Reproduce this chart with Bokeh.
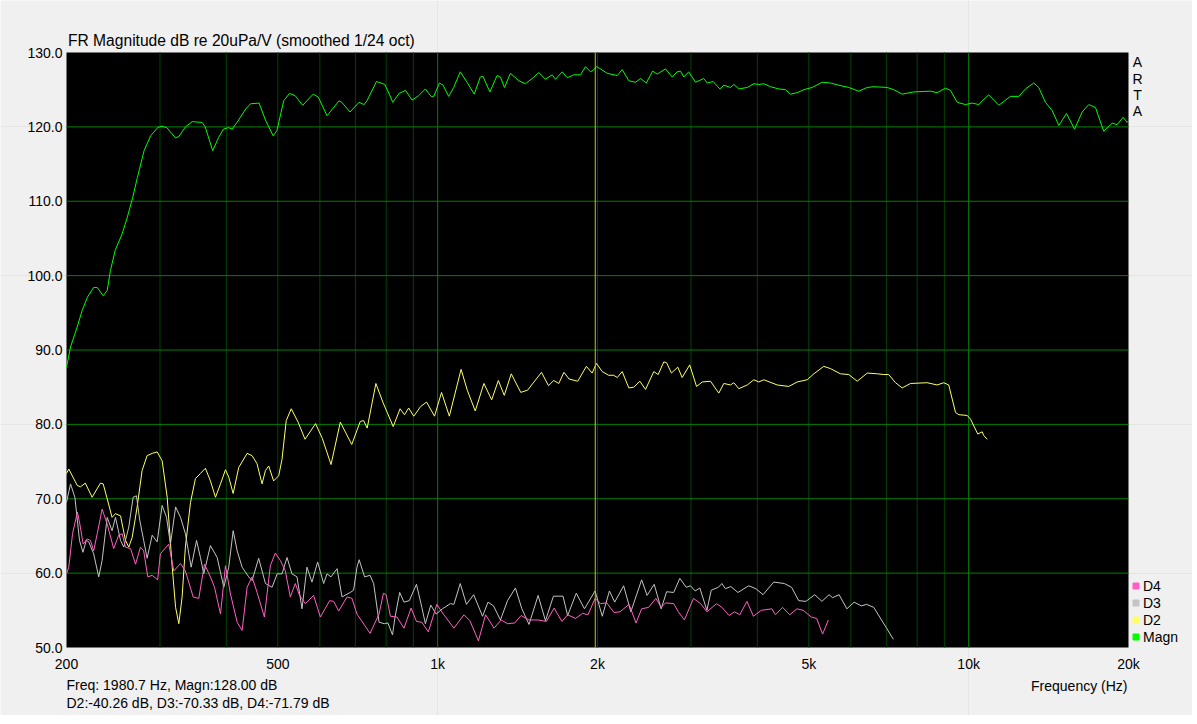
import math
from bokeh.plotting import figure
from bokeh.models import Label, Legend, LegendItem, BoxAnnotation, Range1d
from bokeh.core.properties import value
from bokeh.embed import file_html
from bokeh.resources import INLINE

# ---------------- data ----------------
magn_freq = [200, 203.5, 209.5, 214, 219, 225, 228.5, 234.5, 238.6, 242, 247, 254.5, 260.5, 266.5, 272, 280,
             288, 297, 302, 309, 321, 325.5, 335, 345, 360, 365, 377, 387, 395, 404, 410, 419, 435, 444, 461,
             474, 490, 498, 513, 526, 539, 557, 583, 596, 619, 652, 660, 684, 711, 727, 736, 767, 795, 811,
             823, 846, 870, 895, 921, 948, 972, 983, 1008, 1024, 1049, 1072, 1103, 1136, 1172, 1203, 1217,
             1254, 1294, 1313, 1336, 1371, 1422, 1463, 1506, 1551, 1596, 1643, 1667, 1716, 1754, 1805, 1858,
             1899, 1940, 1963, 1991, 2026, 2086, 2179, 2226, 2291, 2357, 2410, 2471, 2540, 2591, 2686, 2765,
             2825, 2866, 2907, 2970, 3059, 3170, 3219, 3303, 3399, 3459, 3560, 3612, 3691, 3829, 3939, 4026,
             4114, 4235, 4390, 4520, 4618, 4754, 4893, 5074, 5299, 5493, 5693, 5946, 6211, 6443, 6627, 7022,
             7227, 7497, 7883, 8473, 8723, 9044, 9242, 9517, 9865, 10155, 10449, 10604, 10911, 11395, 11986,
             12429, 12795, 13262, 13552, 13951, 14363, 14786, 15286, 15825, 16362, 16835, 17334, 17964, 18635,
             19036, 19540, 19880, 20000]
magn_db = [87.7, 90.4, 93.1, 95.3, 97.1, 98.4, 98.4, 97.3, 98.0, 100.7, 103.4, 105.6, 107.9, 110.5, 113.2, 116.8,
           118.8, 119.9, 120.1, 119.9, 118.5, 118.7, 120.0, 120.7, 120.6, 120.0, 116.8, 118.6, 119.7, 119.9, 119.7,
           120.6, 122.4, 123.1, 123.2, 120.9, 118.8, 119.5, 123.5, 124.5, 124.2, 122.9, 124.4, 124.0, 121.5,
           123.5, 123.3, 122.0, 123.3, 123.0, 123.5, 126.1, 125.7, 124.4, 123.3, 124.5, 124.9, 123.6, 124.2,
           125.1, 124.1, 124.1, 125.9, 125.6, 124.1, 125.3, 127.4, 126.0, 124.4, 126.7, 126.8, 124.7, 126.9,
           126.7, 125.3, 127.2, 126.2, 125.8, 126.5, 127.3, 126.4, 127.0, 126.4, 127.4, 126.6, 127.0, 127.0,
           128.1, 127.4, 127.6, 128.1, 127.8, 127.2, 126.9, 127.7, 126.2, 126.0, 126.5, 125.9, 127.5, 127.1,
           127.8, 126.7, 127.4, 127.5, 126.7, 127.4, 126.0, 126.5, 125.9, 126.1, 125.1, 125.6, 125.3, 125.7,
           125.1, 125.3, 125.8, 125.7, 125.8, 125.4, 125.1, 125.0, 124.4, 124.6, 125.0, 125.3, 126.0, 125.9,
           125.6, 125.3, 124.8, 125.3, 125.4, 125.3, 125.0, 124.4, 124.7, 124.8, 124.6, 125.2, 124.9, 123.3,
           123.0, 123.2, 123.0, 123.5, 124.3, 122.9, 124.1, 124.1, 125.1, 125.9, 125.3, 123.3, 122.2, 120.2,
           121.8, 119.7, 122.0, 123.0, 122.6, 119.4, 120.5, 120.3, 121.3, 120.6, 120.8]

d2_freq = [200, 202, 209.5, 212.5, 217, 223.5, 231.7, 234.5, 238.6, 243.7, 247.3, 252.8, 258.3, 262, 265.9,
           271.7, 277.6, 283.7, 290, 296.3, 302.8, 309.5, 316.3, 321, 325.5, 330.2, 334.9, 342.4, 349.8, 357.5,
           365.3, 373.3, 381.6, 390, 398.5, 404.2, 412, 422, 437.7, 447.2, 457, 467, 473.9, 480.7, 491, 502,
           509.2, 518.6, 530, 546, 562.7, 588.9, 606.5, 629.8, 655.7, 689, 715, 725.5, 736.7, 765, 788.4,
           824.7, 849.7, 866, 882, 901.6, 929, 953, 986.5, 1017, 1052, 1107, 1137, 1177, 1222, 1264, 1301,
           1335, 1376, 1434, 1477, 1569, 1617, 1654, 1691, 1729, 1768, 1835.5, 1906, 1954, 1991, 2041, 2100,
           2146, 2179, 2226, 2291, 2340, 2403, 2463, 2553, 2602, 2666, 2698, 2756, 2833, 2887, 2983, 3073,
           3150, 3265, 3384, 3459, 3560, 3612, 3691, 3829, 3939, 4026, 4114, 4360, 4584, 4754, 4966, 5112,
           5335, 5493, 5735, 5946, 6168, 6443, 6726, 6920, 7071, 7282, 7497, 7771, 8354, 8723, 8976, 9172,
           9447, 9582, 9938, 10081, 10404, 10604, 10678, 10836]
d2_db = [73.4, 74.0, 71.8, 71.6, 72.1, 70.2, 72.1, 72.0, 70.0, 67.5, 68.0, 67.7, 64.4, 63.5, 64.8,
         68.9, 73.8, 75.8, 76.1, 76.3, 75.1, 70.2, 60.8, 55.4, 53.2, 56.8, 63.5, 69.5, 72.7, 73.4,
         74.1, 72.4, 70.2, 72.0, 73.9, 72.9, 70.7, 74.2, 76.1, 75.8, 74.7, 72.0, 73.8, 74.4, 72.4, 73.1,
         75.3, 80.5, 82.1, 80.3, 78.0, 80.1, 78.1, 74.6, 80.3, 77.3, 80.4, 80.5, 79.5, 85.5, 83.0,
         79.7, 82.1, 81.3, 82.2, 81.1, 82.4, 83.0, 81.1, 84.3, 81.1, 87.4, 84.6, 81.8, 85.5, 83.3, 85.9,
         83.9, 86.8, 84.3, 84.6, 87.0, 85.2, 85.9, 85.5, 87.0, 86.1, 85.8, 87.8, 86.9, 88.2, 87.1, 86.6,
         86.6, 86.3, 87.1, 84.9, 85.0, 85.8, 84.7, 87.1, 86.7, 88.4, 88.3, 86.9, 87.7, 86.3, 88.0, 85.1,
         85.7, 85.8, 84.2, 85.5, 85.3, 85.6, 84.8, 85.3, 86.0, 85.7, 86.0, 85.3, 85.1, 85.7, 86.0, 86.8,
         87.8, 87.5, 86.8, 86.7, 85.8, 86.9, 86.8, 86.7, 86.7, 85.6, 84.9, 85.5, 85.6, 85.3, 85.6, 85.3,
         81.6, 81.3, 81.2, 80.7, 78.7, 79.0, 78.5, 78.0]

d3_freq = [200, 203.5, 207.4, 211.6, 214.8, 217.9, 220.3, 225, 230, 233.4, 238.6, 243.7, 247.3, 252.8, 256.4,
           262, 267, 270.9, 274.8, 279.5, 283.7, 290, 296.3, 302.8, 308.6, 313.9, 321, 327.9, 334.9, 343.4,
           351.5, 357.5, 362.7, 373.3, 384.4, 395.6, 404.2, 412, 419.2, 428.3, 440.7, 447.2, 460.2, 473.9,
           487.7, 498.6, 509.2, 520.4, 531.7, 543.4, 555.3, 567.4, 579.8, 594.3, 610, 618.9, 629.8, 646.5,
           660.5, 684.7, 694.5, 704.8, 711.5, 728.4, 746, 757.7, 775.6, 793.6, 806, 822.2, 831.2, 848.3,
           864.2, 884.3, 912.2, 933.7, 948.1, 970.8, 993.3, 1021, 1057, 1073, 1103, 1133, 1169, 1215, 1244,
           1274, 1313, 1354, 1401, 1441, 1486, 1546, 1596, 1652, 1722, 1757, 1824, 1890, 1979, 2042, 2106,
           2155, 2240, 2311, 2422, 2480, 2557, 2636, 2699, 2783, 2858, 2938, 2993, 3054, 3117, 3214, 3275,
           3378, 3430, 3483, 3565, 3678, 3853, 3975, 4100, 4294, 4497, 4640, 4786, 4938, 5131, 5292, 5459,
           5542, 5702, 5897, 6086, 6277, 6424, 6625, 6992, 7214]
d3_db = [69.5, 72.0, 70.2, 64.4, 62.8, 64.4, 64.2, 62.6, 59.5, 61.7, 67.5, 65.7, 67.5, 64.4, 63.5,
         66.2, 70.2, 70.4, 67.1, 64.4, 62.0, 65.1, 64.2, 69.1, 67.5, 63.9, 68.9, 67.5, 65.3, 60.8,
         64.4, 62.1, 59.9, 63.7, 62.1, 58.1, 60.8, 65.7, 63.0, 60.8, 59.5, 59.0, 62.0, 58.6,
         58.1, 59.9, 59.9, 62.1, 59.9, 59.5, 55.2, 60.8, 58.8, 61.5, 58.6, 59.9, 59.5, 60.6,
         56.8, 57.4, 57.7, 60.8, 61.8, 59.5, 59.7, 58.6, 53.4, 53.2, 53.3, 51.7, 54.1, 57.4,
         56.1, 56.3, 58.5, 55.4, 53.2, 55.7, 54.5, 55.2, 55.9, 55.8, 58.6, 55.8, 57.1, 54.2, 56.1,
         55.6, 53.7, 56.3, 58.0, 55.2, 53.1, 57.0, 53.6, 56.9, 56.9, 54.3, 57.3, 55.2, 57.6, 54.2, 57.6,
         56.1, 58.3, 54.8, 59.1, 57.0, 58.5, 55.2, 57.5, 57.4, 59.3, 58.1, 58.3, 57.6, 58.0, 55.0, 57.7,
         58.1, 58.6, 57.9, 58.2, 57.4, 58.3, 57.9, 57.1, 58.8, 58.6, 58.1, 56.3, 56.2, 57.1, 56.2, 57.1,
         56.7, 57.1, 55.2, 56.1, 55.6, 55.8, 55.4, 52.7, 51.1]

d4_freq = [200, 202, 205.3, 209.7, 211.9, 215, 218.7, 221.9, 225, 228.5, 233.4, 238.6, 245.4, 250.8, 254.6,
           258.3, 264, 269.8, 275.6, 279.5, 284.5, 290, 297, 300.5, 311.6, 318.5, 327.9, 334.9, 346.4, 354.9,
           363.8, 373.3, 380, 390, 398.5, 407.2, 419.2, 428.3, 437.7, 447.2, 457, 471.7, 484.1, 494.7, 505.5,
           516.6, 527.9, 539.4, 549.5, 563.3, 584, 601.3, 626, 637, 651, 675, 689.8, 704.8, 746, 775.6, 790.6,
           799.8, 814.8, 837.7, 864.2, 891.2, 912.2, 933.7, 960.4, 996.4, 1025, 1073, 1121, 1150, 1193.5, 1231,
           1277, 1317, 1354, 1397, 1436, 1486, 1546, 1602, 1657, 1714, 1757, 1818, 1875, 1919, 1979, 2026,
           2082, 2149, 2205, 2293, 2364, 2422, 2497, 2576, 2636, 2686, 2783, 2840, 2915, 3032, 3128, 3214,
           3352, 3430, 3539, 3622, 3706, 3824, 3932, 4069, 4260, 4327, 4462, 4604, 4749, 4880, 5053, 5173,
           5308, 5443]
d4_db = [59.9, 60.8, 65.3, 68.2, 66.6, 63.9, 64.6, 64.4, 63.0, 65.3, 68.6, 66.6, 63.3, 65.1, 65.3,
         63.5, 63.3, 61.2, 63.5, 63.0, 59.5, 59.7, 59.1, 62.6, 63.9, 60.3, 61.3, 60.3, 56.8, 56.6,
         61.2, 59.5, 58.1, 54.5, 61.0, 57.2, 53.4, 52.3, 58.1, 59.5, 57.4, 54.1, 61.0, 62.7, 61.7,
         60.3, 56.8, 58.6, 57.0, 55.9, 57.0, 54.1, 56.3, 56.2, 54.9, 56.8, 56.6, 54.5, 51.9, 54.5, 57.3,
         57.1, 54.2, 54.1, 52.6, 55.3, 53.5, 53.4, 52.1, 55.8, 54.5, 52.6, 54.4, 53.6, 50.9, 54.4,
         52.6, 53.7, 53.2, 53.3, 54.3, 53.7, 53.7, 53.5, 55.3, 53.5, 54.4, 53.9, 54.6, 54.4, 56.6, 55.9,
         56.0, 54.7, 54.8, 55.8, 53.3, 55.2, 55.4, 56.6, 55.4, 56.0, 55.9, 54.8, 53.7, 56.6, 55.9, 54.8,
         55.9, 55.4, 54.3, 54.8, 54.4, 56.2, 54.2, 55.0, 55.2, 54.4, 55.4, 54.4, 55.2, 55.0, 54.1, 53.9,
         51.8, 53.7]

series_names = ["D4", "D3", "D2", "Magn"]
series_colors = ["#ff5fc4", "#c4c4c4", "#ffff66", "#00ff00"]

cursor_freq = 1980.7
x_tick_values = [200, 500, 1000, 2000, 5000, 10000, 20000]
x_tick_labels = ["200", "500", "1k", "2k", "5k", "10k", "20k"]
y_tick_values = [50, 60, 70, 80, 90, 100, 110, 120, 130]
y_tick_labels = ["50.0", "60.0", "70.0", "80.0", "90.0", "100.0", "110.0", "120.0", "130.0"]
x_grid_major = [1000, 10000]
x_grid_minor = [300, 400, 500, 600, 700, 800, 900, 2000, 3000, 4000, 5000, 6000, 7000, 8000, 9000]
y_grid = [60, 70, 80, 90, 100, 110, 120]

title_text = "FR Magnitude dB re 20uPa/V (smoothed 1/24 oct)"
readout_lines = ["Freq: 1980.7 Hz, Magn:128.00 dB", "D2:-40.26 dB, D3:-70.33 dB, D4:-71.79 dB"]
x_label_text = "Frequency (Hz)"
brand_letters = ["A", "R", "T", "A"]

FONT = "Liberation Sans"

# ---------------- layout (pixels of the page) ----------------
W, H = 1192, 715
PLOT_L, PLOT_R, PLOT_T, PLOT_B = 66, 1128, 52, 647
X_MIN, X_MAX = x_tick_values[0], x_tick_values[-1]
Y_MIN, Y_MAX = y_tick_values[0], y_tick_values[-1]
px_per_dec = (PLOT_R - PLOT_L) / math.log10(X_MAX / X_MIN)
px_per_db = (PLOT_B - PLOT_T) / (Y_MAX - Y_MIN)


def xd(px):
    """page x pixel -> frequency"""
    return X_MIN * 10 ** ((px - PLOT_L) / px_per_dec)


def yd(py):
    """page y pixel -> dB"""
    return Y_MAX - (py - PLOT_T) / px_per_db


p = figure(width=W, height=H, x_axis_type="log", x_axis_location=None, y_axis_location=None,
           x_range=Range1d(xd(0), xd(W)), y_range=Range1d(yd(H), yd(0)),
           output_backend="svg", toolbar_location=None,
           min_border_left=0, min_border_right=0, min_border_top=0, min_border_bottom=0,
           background_fill_color="#f0f0f0", border_fill_color="#f0f0f0", outline_line_color=None)

# plot area
p.add_layout(BoxAnnotation(left=X_MIN, right=X_MAX, bottom=Y_MIN, top=Y_MAX, fill_color="black",
                           fill_alpha=1, line_color=None, level="underlay"))

# grid lines
p.segment(x0=x_grid_minor, y0=[Y_MIN] * len(x_grid_minor), x1=x_grid_minor, y1=[Y_MAX] * len(x_grid_minor),
          line_color="#004400", line_width=1)
p.segment(x0=x_grid_major, y0=[Y_MIN] * len(x_grid_major), x1=x_grid_major, y1=[Y_MAX] * len(x_grid_major),
          line_color="#008000", line_width=1)
p.segment(x0=[X_MIN] * len(y_grid), y0=y_grid, x1=[X_MAX] * len(y_grid), y1=y_grid,
          line_color="#008000", line_width=1)

# curves
p.line(magn_freq, magn_db, line_color=series_colors[3], line_width=1)
p.line(d2_freq, d2_db, line_color=series_colors[2], line_width=1)
p.line(d3_freq, d3_db, line_color=series_colors[1], line_width=1)
p.line(d4_freq, d4_db, line_color=series_colors[0], line_width=1)

# cursor
p.segment(x0=[cursor_freq], y0=[Y_MIN], x1=[cursor_freq], y1=[Y_MAX], line_color="#c8c800", line_width=1)

# tick labels
p.text(x=x_tick_values, y=[yd(663)] * len(x_tick_values), text=x_tick_labels,
       text_align="center", text_baseline="middle", text_font=value(FONT),
       text_font_size=value("14px"), text_color="black")
p.text(x=[xd(62)] * len(y_tick_values), y=y_tick_values, text=y_tick_labels,
       text_align="right", text_baseline="middle", text_font=value(FONT),
       text_font_size=value("14px"), text_color="black")

# texts
lab = dict(text_font=FONT, text_font_size="14px", text_color="black", text_baseline="middle")
p.add_layout(Label(x=xd(67.5), y=yd(40), text=title_text, **{**lab, "text_font_size": "15.6px"}))
for letter, py in zip(brand_letters, [61.7, 78.3, 94.3, 110]):
    p.add_layout(Label(x=xd(1137), y=yd(py), text=letter, text_align="center", **lab))
for line, py in zip(readout_lines, [684, 702]):
    p.add_layout(Label(x=xd(66), y=yd(py), text=line, **lab))
p.add_layout(Label(x=xd(1127), y=yd(685), text=x_label_text, text_align="right", **lab))

# series legend (square swatches), right of the plot area.
# Each swatch renderer holds a single NaN point: nothing is drawn in the plot,
# but the legend has a marker to draw.
items = []
for name, col in zip(series_names, series_colors):
    r = p.scatter([float("nan")], [float("nan")], marker="square", size=6, fill_color=col, line_color=col)
    items.append(LegendItem(label=name, renderers=[r], index=0))
legend = Legend(items=items, location=(1128, H - 645), glyph_width=15, glyph_height=15, label_height=17,
                margin=0, padding=0, spacing=0, label_standoff=0, label_text_font=FONT,
                label_text_font_size="14px", label_text_color="black",
                background_fill_alpha=0, border_line_color=None)
p.add_layout(legend)

html = file_html(p, INLINE)
html = html.replace("<body>", '<body style="background-color:#f0f0f0;">', 1)
open("out.html", "w").write(html)
